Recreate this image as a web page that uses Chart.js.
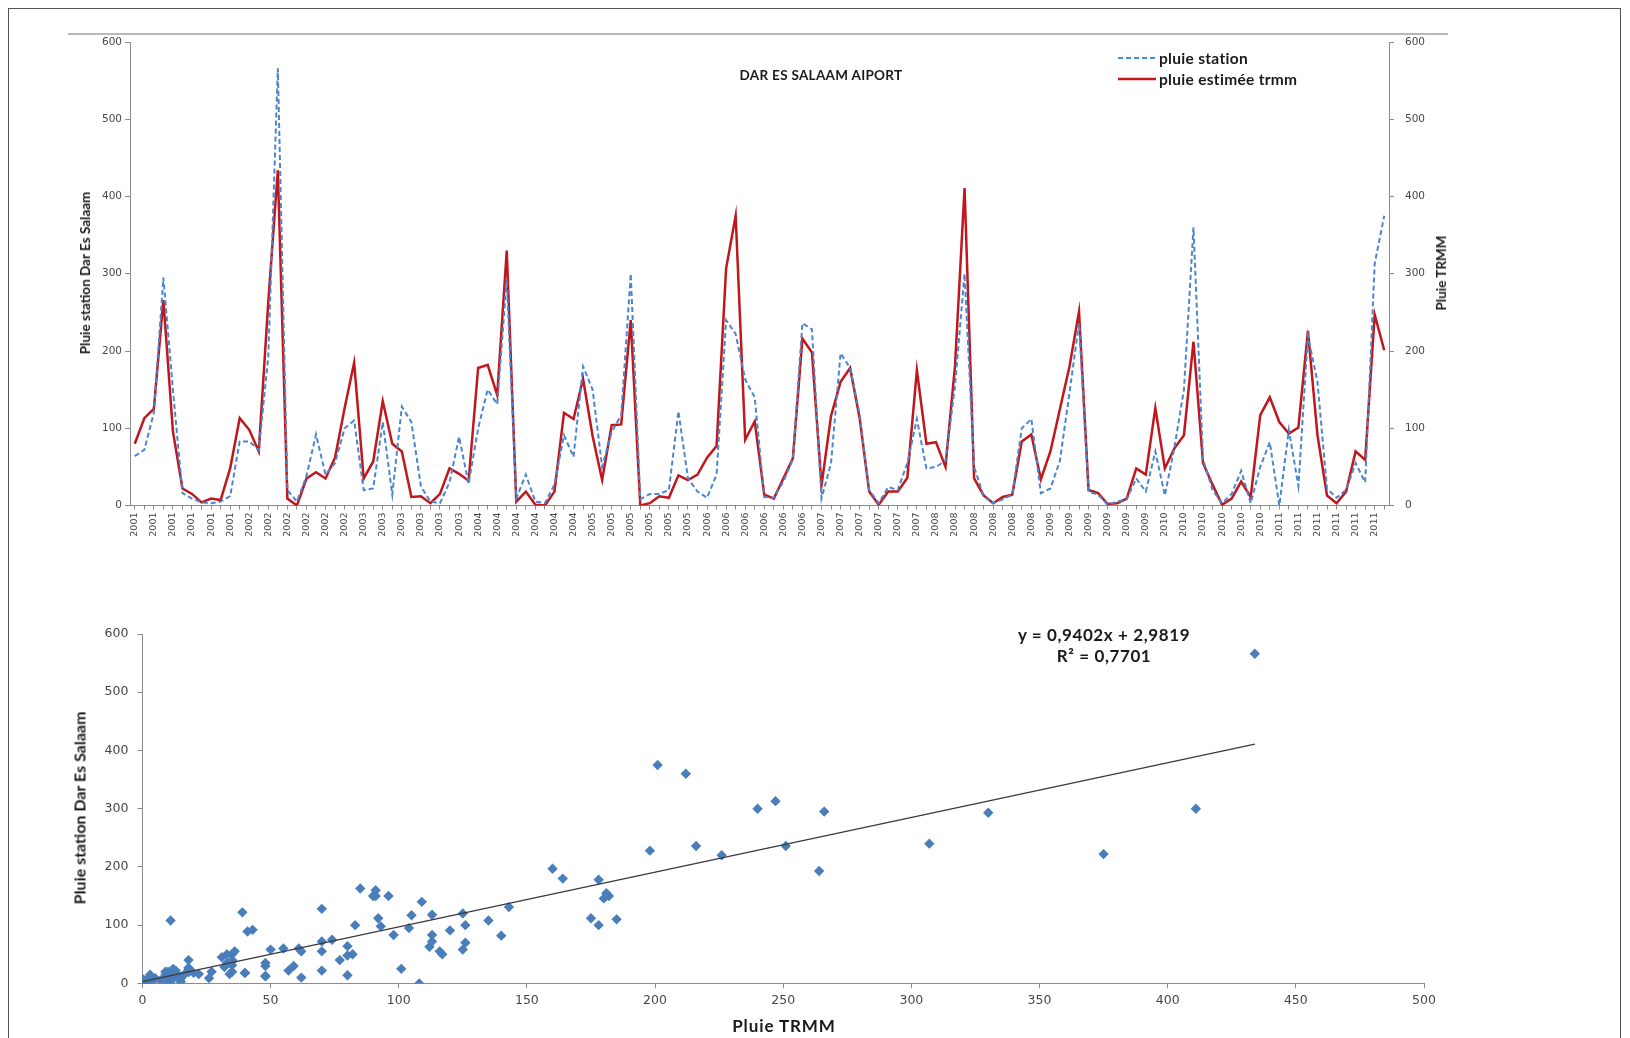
<!DOCTYPE html>
<html>
<head>
<meta charset="utf-8">
<title>Dar Es Salaam - pluie station / TRMM</title>
<script src="https://cdn.jsdelivr.net/npm/chart.js@4.4.1/dist/chart.umd.min.js"></script>
<style>
    body { margin: 0; background: #fff; width: 1630px; height: 1038px; overflow: hidden; position: relative; font-family: Lato, 'Open Sans', sans-serif; }
    #frame { position: absolute; left: 8px; top: 8px; width: 1611px; height: 1040px; border: 1px solid #555; }
    #topline { position: absolute; left: 68px; top: 33px; width: 1380px; border-top: 2px solid #b8b8b8; }
    #c1 { position: absolute; left: 0; top: 0; }
    #c2 { position: absolute; left: 0; top: 560px; }
    .lbl { position: absolute; font-weight: bold; color: #1a1a1a; white-space: nowrap; transform: translate(-50%, -50%); }
    .rot { transform: translate(-50%, -50%) rotate(-90deg); }
    .leg { position: absolute; left: 1118px; font-weight: bold; font-size: 15.5px; letter-spacing: 0.3px; color: #1a1a1a; white-space: nowrap; display: flex; align-items: center; transform: translateY(-50%); }
    .leg svg { margin-right: 3px; }
</style>
</head>
<body>
<div id="frame"></div>
<div id="topline"></div>
<canvas id="c1" width="1630" height="560"></canvas>
<canvas id="c2" width="1630" height="478"></canvas>

<div class="lbl" style="left:821px; top:75px; font-size:13.5px; letter-spacing:0.3px;">DAR ES SALAAM AIPORT</div>
<div class="leg" style="top:58px;"><svg width="38" height="4"><line x1="0" y1="2" x2="38" y2="2" stroke="#4a86d0" stroke-width="2" stroke-dasharray="5,3"/></svg>pluie station</div>
<div class="leg" style="top:79px;"><svg width="38" height="4"><line x1="0" y1="2" x2="38" y2="2" stroke="#c0161c" stroke-width="2.5"/></svg>pluie estimée trmm</div>
<div class="lbl rot" style="left:85px; top:273px; font-size:13.5px;">Pluie station Dar Es Salaam</div>
<div class="lbl rot" style="left:1441px; top:273px; font-size:13.5px;">Pluie TRMM</div>

<div class="lbl" style="left:1104px; top:634px; font-size:17px; letter-spacing:0.6px;">y = 0,9402x + 2,9819</div>
<div class="lbl" style="left:1104px; top:655px; font-size:17px; letter-spacing:0.6px;">R² = 0,7701</div>
<div class="lbl" style="left:784px; top:1025px; font-size:17px; letter-spacing:0.9px;">Pluie TRMM</div>
<div class="lbl rot" style="left:79px; top:808px; font-size:16px;">Pluie station Dar Es Salaam</div>

<script>
// annees (une categorie par mois, 2001-2011)
const years = ['2001', '2002', '2003', '2004', '2005', '2006', '2007', '2008', '2009', '2010', '2011'];

// pluie mensuelle station (mm)
const station = [
    64, 72, 120, 295, 150, 16, 9, 4, 3, 5, 12, 83,
    83, 72, 193, 566, 20, 5, 38, 92, 40, 55, 100, 110,
    20, 22, 108, 14, 128, 108, 25, 5, 3, 30, 89, 28,
    100, 150, 131, 293, 9, 40, 5, 3, 27, 91, 63, 180,
    150, 50, 95, 117, 300, 8, 15, 15, 20, 122, 35, 18,
    10, 40, 240, 222, 163, 140, 11, 10, 31, 60, 236, 228,
    9, 55, 197, 178, 118, 20, 3, 24, 20, 55, 112, 48,
    50, 58, 155, 300, 50, 12, 3, 8, 14, 100, 112, 16,
    22, 58, 146, 236, 18, 14, 1, 5, 8, 35, 18, 70,
    13, 75, 150, 360, 60, 20, 3, 15, 45, 3, 50, 82,
    0, 98, 25, 220, 160, 22, 10, 20, 55, 30, 313, 375
];

// pluie mensuelle estimee TRMM (mm)
const trmm = [
    80, 113, 125, 266, 96, 22, 15, 4, 9, 7, 48, 113,
    98, 70, 264, 434, 9, 0, 35, 43, 35, 62, 126, 185,
    35, 57, 135, 80, 70, 11, 12, 3, 15, 48, 41, 32,
    178, 182, 143, 330, 5, 18, 1, 0, 18, 120, 112, 164,
    90, 33, 104, 105, 240, 0, 3, 12, 10, 39, 33, 40,
    62, 77, 307, 375, 85, 109, 14, 9, 35, 61, 216, 198,
    26, 116, 160, 178, 113, 18, 1, 18, 18, 36, 175, 80,
    82, 50, 181, 411, 35, 13, 3, 11, 14, 83, 92, 34,
    70, 125, 180, 251, 20, 16, 2, 3, 9, 48, 40, 126,
    48, 74, 91, 212, 55, 27, 1, 9, 31, 11, 117, 140,
    108, 93, 101, 226, 91, 13, 3, 18, 70, 59, 247, 201
];

// droite de regression affichee
const slope = 0.9402;
const intercept = 2.9819;

const yTicks = [0, 100, 200, 300, 400, 500, 600];
const xTicksScatter = [0, 50, 100, 150, 200, 250, 300, 350, 400, 450, 500];

const months = [];
years.forEach(function(y) {
    for (let m = 0; m < 12; m++) months.push(y);
});

const AXIS = '#8c8c8c';
const TICK = '#474747';
const BLUE = '#4a86d0';
const RED = '#c0161c';
const DIAMOND = '#4a7ebb';

// Serie temporelle
const ctxTop = document.getElementById('c1').getContext('2d');
const topChart = new Chart(ctxTop, {
    type: 'line',
    data: {
        labels: months,
        datasets: [{
            label: 'pluie station',
            data: station,
            yAxisID: 'y',
            borderColor: BLUE,
            borderWidth: 2,
            borderDash: [5, 3],
            pointRadius: 0,
            tension: 0,
            fill: false
        }, {
            label: 'pluie estimée trmm',
            data: trmm,
            yAxisID: 'y1',
            borderColor: RED,
            borderWidth: 2.5,
            pointRadius: 0,
            tension: 0,
            fill: false
        }]
    },
    options: {
        responsive: false,
        animation: false,
        devicePixelRatio: 1,
        layout: { padding: { top: 42, left: 0, right: 0, bottom: 0 } },
        plugins: { legend: { display: false }, tooltip: { enabled: false } },
        scales: {
            x: {
                offset: true,
                border: { color: AXIS },
                grid: { drawOnChartArea: false, color: AXIS, tickLength: 4 },
                ticks: {
                    autoSkip: false,
                    minRotation: 90,
                    maxRotation: 90,
                    padding: 3,
                    color: TICK,
                    font: { family: 'DejaVu Sans', size: 9.5 },
                    callback: function(v, i) { return i % 2 === 0 ? months[i] : ''; }
                },
                afterFit: function(s) { s.height = 54.5; }
            },
            y: {
                position: 'left',
                min: 0,
                max: 600,
                border: { color: AXIS },
                grid: { drawOnChartArea: false, color: AXIS, tickLength: 5 },
                afterBuildTicks: function(s) { s.ticks = yTicks.map(v => ({ value: v })); },
                ticks: { padding: 3, color: TICK, font: { family: 'DejaVu Sans', size: 10.5 } },
                afterFit: function(s) { s.width = 130; }
            },
            y1: {
                position: 'right',
                min: 0,
                max: 600,
                border: { color: AXIS },
                grid: { drawOnChartArea: false, color: AXIS, tickLength: 5 },
                afterBuildTicks: function(s) { s.ticks = yTicks.map(v => ({ value: v })); },
                ticks: { padding: 11, color: TICK, font: { family: 'DejaVu Sans', size: 10.5 } },
                afterFit: function(s) { s.width = 241; }
            }
        }
    }
});

// Nuage de points station vs TRMM
const points = trmm.map(function(t, i) { return { x: t, y: station[i] }; });
const xMax = Math.max.apply(null, trmm);
const trend = [{ x: 0, y: intercept }, { x: xMax, y: slope * xMax + intercept }];

const ctxBottom = document.getElementById('c2').getContext('2d');
const scatterChart = new Chart(ctxBottom, {
    type: 'scatter',
    data: {
        datasets: [{
            type: 'line',
            label: 'Linéaire',
            data: trend,
            borderColor: '#3a3a3a',
            borderWidth: 1.3,
            pointRadius: 0,
            fill: false
        }, {
            label: 'station / TRMM',
            data: points,
            pointStyle: 'rectRot',
            pointRadius: 5.2,
            backgroundColor: DIAMOND,
            borderColor: DIAMOND,
            borderWidth: 0
        }]
    },
    options: {
        responsive: false,
        animation: false,
        devicePixelRatio: 1,
        layout: { padding: { top: 74, left: 0, right: 206, bottom: 0 } },
        plugins: { legend: { display: false }, tooltip: { enabled: false } },
        scales: {
            x: {
                type: 'linear',
                min: 0,
                max: 500,
                border: { color: AXIS },
                grid: { drawOnChartArea: false, color: AXIS, tickLength: 5 },
                afterBuildTicks: function(s) { s.ticks = xTicksScatter.map(v => ({ value: v })); },
                ticks: { padding: 5, color: TICK, font: { family: 'DejaVu Sans', size: 12.5 } },
                afterFit: function(s) { s.height = 54.6; }
            },
            y: {
                min: 0,
                max: 600,
                border: { color: AXIS },
                grid: { drawOnChartArea: false, color: AXIS, tickLength: 5 },
                afterBuildTicks: function(s) { s.ticks = yTicks.map(v => ({ value: v })); },
                ticks: { padding: 9, color: TICK, font: { family: 'DejaVu Sans', size: 12.5 } },
                afterFit: function(s) { s.width = 142.4; }
            }
        }
    }
});
</script>
</body>
</html>
